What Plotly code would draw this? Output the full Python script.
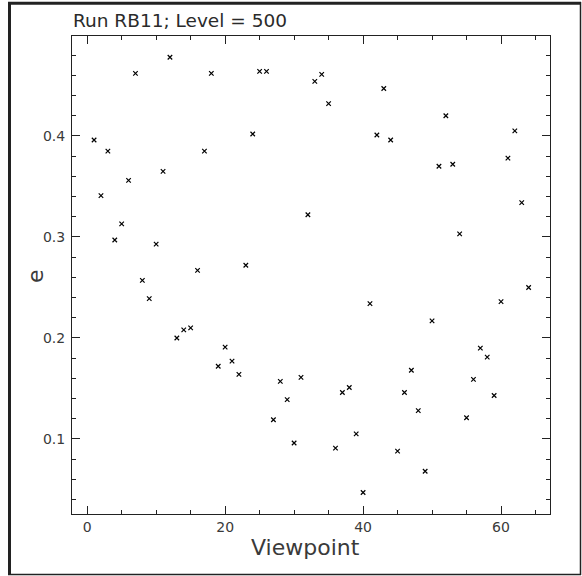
import plotly.graph_objects as go

# ---- data ----
viewpoint = list(range(1, 65))
e_values = [
    0.396, 0.341, 0.385, 0.297, 0.313, 0.356, 0.462, 0.257, 0.239, 0.293,
    0.365, 0.478, 0.200, 0.208, 0.210, 0.267, 0.385, 0.462, 0.172, 0.191,
    0.177, 0.164, 0.272, 0.402, 0.464, 0.464, 0.119, 0.157, 0.139, 0.096,
    0.161, 0.322, 0.454, 0.461, 0.432, 0.091, 0.146, 0.151, 0.105, 0.047,
    0.234, 0.401, 0.447, 0.396, 0.088, 0.146, 0.168, 0.128, 0.068, 0.217,
    0.370, 0.420, 0.372, 0.303, 0.121, 0.159, 0.190, 0.181, 0.143, 0.236,
    0.378, 0.405, 0.334, 0.250,
]
x_tickvals = [0, 20, 40, 60]
y_tickvals = [0.1, 0.2, 0.3, 0.4]
title_text = "Run RB11; Level = 500"
x_label = "Viewpoint"
y_label = "e"

# ---- layout geometry (pixels) ----
W, H = 582, 576
L, R, T, B = 72, 550, 36, 514
PW, PH = R - L, B - T


def px(x):
    return (x - L) / PW


def py(y):
    return (B - y) / PH


FONT = "DejaVu Sans"
AXC = "#222222"

fig = go.Figure()
fig.add_trace(go.Scatter(
    x=viewpoint, y=e_values, mode="markers",
    marker=dict(symbol="x-thin", size=4.5, line=dict(width=1.2, color="black"), color="black"),
    showlegend=False, hoverinfo="x+y",
))

axis_common = dict(
    showline=True, linecolor=AXC, linewidth=1, mirror="ticks",
    ticks="inside", ticklen=8, tickwidth=1, tickcolor=AXC,
    showgrid=False, zeroline=False,
    tickfont=dict(family=FONT, size=14, color="#3a3a3a"),
)

fig.update_xaxes(
    range=[-2.2, 67.1], tickmode="array", tickvals=x_tickvals,
    ticktext=[str(v) for v in x_tickvals],
    minor=dict(ticks="inside", dtick=5, tick0=0, ticklen=4, tickcolor=AXC, tickwidth=1, showgrid=False),
    **axis_common,
)
fig.update_yaxes(
    range=[0.0257, 0.499], tickmode="array", tickvals=y_tickvals,
    ticktext=[f"{v:.1f}" for v in y_tickvals],
    minor=dict(ticks="inside", dtick=0.02, tick0=0, ticklen=4, tickcolor=AXC, tickwidth=1, showgrid=False),
    ticklabelstandoff=3,
    **axis_common,
)

annotations = [
    dict(text=title_text, x=px(71), y=py(21), xref="paper", yref="paper",
         xanchor="left", yanchor="middle", showarrow=False,
         font=dict(family=FONT, size=18.5, color="#2a2a2a")),
    dict(text=x_label, x=px(305), y=py(547), xref="paper", yref="paper",
         xanchor="center", yanchor="middle", showarrow=False,
         font=dict(family=FONT, size=22, color="#3a3a3a")),
    dict(text=y_label, x=px(35), y=py(276), xref="paper", yref="paper",
         xanchor="center", yanchor="middle", showarrow=False, textangle=-90,
         font=dict(family=FONT, size=22, color="#3a3a3a")),
]

shapes = [
    dict(type="line", xref="paper", yref="paper", x0=px(9.5), x1=px(9.5), y0=py(2), y1=py(575),
         line=dict(color="#222222", width=3)),
    dict(type="line", xref="paper", yref="paper", x0=px(8), x1=px(581), y0=py(3.3), y1=py(3.3),
         line=dict(color="#222222", width=3)),
    dict(type="line", xref="paper", yref="paper", x0=px(580.5), x1=px(580.5), y0=py(2), y1=py(575),
         line=dict(color="#222222", width=1.5)),
    dict(type="line", xref="paper", yref="paper", x0=px(8), x1=px(581), y0=py(574.5), y1=py(574.5),
         line=dict(color="#222222", width=1.5)),
]

fig.update_layout(
    width=W, height=H,
    margin=dict(l=L, r=W - R, t=T, b=H - B, pad=0),
    paper_bgcolor="white", plot_bgcolor="white",
    annotations=annotations, shapes=shapes,
    font=dict(family=FONT),
)

fig.write_html("out.html")
